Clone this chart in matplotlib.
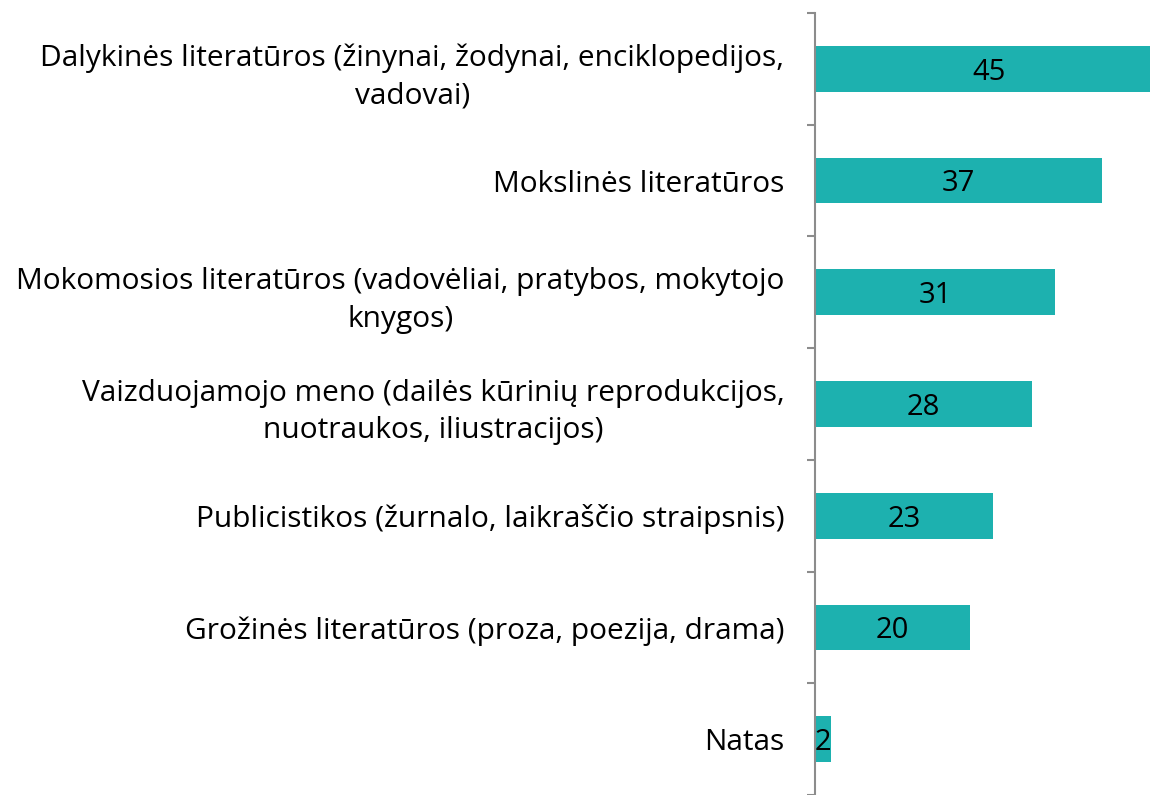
import matplotlib
matplotlib.use("Agg")
import matplotlib.pyplot as plt
import numpy as np

# data
categories = [
    "Dalykinės literatūros (žinynai, žodynai, enciklopedijos,\nvadovai)",
    "Mokslinės literatūros",
    "Mokomosios literatūros (vadovėliai, pratybos, mokytojo\nknygos)",
    "Vaizduojamojo meno (dailės kūrinių reprodukcijos,\nnuotraukos, iliustracijos)",
    "Publicistikos (žurnalo, laikraščio straipsnis)",
    "Grožinės literatūros (proza, poezija, drama)",
    "Natas",
]
values = [45, 37, 31, 28, 23, 20, 2]

plt.rcParams["font.family"] = ["Open Sans", "DejaVu Sans"]

fig = plt.figure(figsize=(11.5, 7.95), dpi=100)
ax = fig.add_axes([815 / 1150, 0, 335 / 1150, 1 - 13 / 795])

n = len(categories)
y = np.arange(n)
ax.barh(y, values, height=0.41, color="#1DB1AF")

for yi, v in zip(y, values):
    ax.text(v / 2, yi + 0.03, str(v), ha="center", va="center", fontsize=21, color="black")

ax.set_xlim(0, 43.2)
ax.set_ylim(n - 0.5, -0.5)

ax.set_yticks(y)
ax.set_yticklabels(categories, fontsize=21.5, linespacing=1.4, ha="right")
for lbl in ax.get_yticklabels():
    lbl.set_multialignment("center")
ax.tick_params(axis="y", which="major", length=0, pad=22)
ax.set_yticks(np.arange(n + 1) - 0.5, minor=True)
ax.tick_params(axis="y", which="minor", length=6, width=1.5, color="#8c8c8c")
ax.set_xticks([])

for s in ["top", "right", "bottom"]:
    ax.spines[s].set_visible(False)
ax.spines["left"].set_color("#8c8c8c")
ax.spines["left"].set_linewidth(1.5)

fig.savefig("out.png", dpi=100)
